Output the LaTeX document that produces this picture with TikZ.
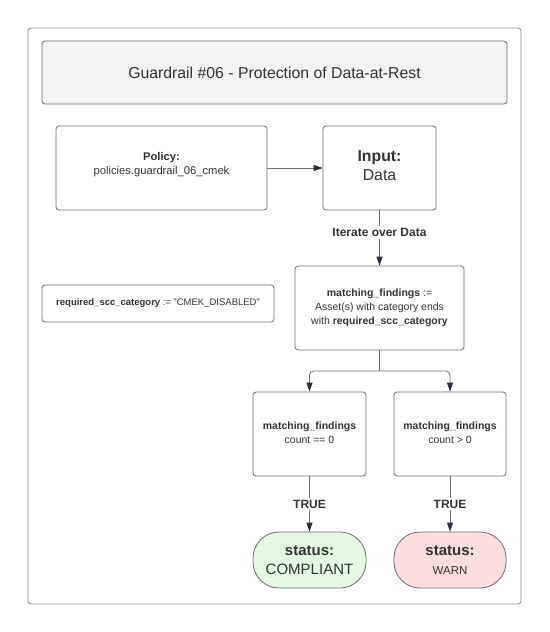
\documentclass[tikz,border=0pt]{standalone}
\usepackage{fontspec}
\setmainfont{Liberation Sans}
\usetikzlibrary{arrows.meta,positioning}
\definecolor{edge}{HTML}{6E6E6E}
\definecolor{txt}{HTML}{333333}
\definecolor{titlefill}{HTML}{F2F3F5}
\definecolor{okfill}{HTML}{E4F8E4}
\definecolor{warnfill}{HTML}{FDDEDE}
\definecolor{arr}{HTML}{2B2F3A}
\begin{document}
\begin{tikzpicture}[x=1pt,y=-1pt,
  box/.style={draw=edge,line width=0.8pt,rounded corners=3pt,text=txt,align=center,inner sep=0pt},
  pill/.style={draw=edge,line width=0.8pt,rounded corners=26pt,text=txt,align=center,inner sep=0pt},
  conn/.style={draw=edge,line width=0.8pt,-{Triangle[length=9pt,width=6pt,fill=arr,color=arr]}},
  lbl/.style={fill=white,text=txt,inner sep=2pt,font=\bfseries\fontsize{12}{14}\selectfont}]
\useasboundingbox (0,0) rectangle (549,632);
\fill[white] (0,0) rectangle (549,632);
\node[box,draw=edge!80,minimum width=493pt,minimum height=576pt] (frame) at (274.5,316) {};
\node[box,fill=titlefill,minimum width=465pt,minimum height=63pt,font=\fontsize{15.8}{18}\selectfont] (title) at (274.5,72.5) {Guardrail \#06 - Protection of Data-at-Rest};
\node[box,minimum width=211pt,minimum height=84pt,font=\fontsize{11.2}{14}\selectfont] (policy) at (161.5,168) {};
\node[text=txt,align=center,font=\fontsize{11.2}{14}\selectfont,inner sep=0pt] (policyt) at (161.5,165) {\textbf{Policy:}\\policies.guardrail\_06\_cmek};
\node[box,minimum width=113pt,minimum height=84pt] (input) at (379.5,168) {};
\node[text=txt,align=center,font=\fontsize{15.8}{19}\selectfont,inner sep=0pt] (inputt) at (379.5,165.5) {\textbf{Input:}\\Data};
\node[box,minimum width=232pt,minimum height=37pt,font=\fontsize{9.5}{11}\selectfont] (req) at (158,303.5) {\textbf{required\_scc\_category} := "CMEK\_DISABLED"};
\node[box,minimum width=169pt,minimum height=84pt,font=\fontsize{10.5}{14}\selectfont] (match) at (379.5,308) {\textbf{matching\_findings} :=\\Asset(s) with category ends\\with \textbf{required\_scc\_category}};
\node[box,minimum width=113pt,minimum height=84pt] (zero) at (309.5,434) {};
\node[text=txt,align=center,font=\fontsize{10.5}{14}\selectfont,inner sep=0pt] (zerot) at (309.5,433) {\textbf{matching\_findings}\\count == 0};
\node[box,minimum width=112pt,minimum height=84pt] (pos) at (450,434) {};
\node[text=txt,align=center,font=\fontsize{10.5}{14}\selectfont,inner sep=0pt] (post) at (450,433) {\textbf{matching\_findings}\\count > 0};
\node[pill,fill=okfill,minimum width=113pt,minimum height=56pt,font=\fontsize{15}{19}\selectfont] (ok) at (309.5,560) {\textbf{status:}\\COMPLIANT};
\node[pill,fill=warnfill,minimum width=112pt,minimum height=56pt,font=\fontsize{15}{19}\selectfont] (warn) at (450,560) {\textbf{status:}\\{\fontsize{11.5}{13}\selectfont WARN}};
\coordinate (split) at (379.5,371);
\draw[conn] (policy) -- (input);
\draw[conn] (input) -- node[lbl,pos=0.4] {Iterate over Data} (match);
\draw[draw=edge,line width=0.8pt] (match.south) -- (split);
\draw[conn,rounded corners=4pt] (split) -| (zero.north);
\draw[conn,rounded corners=4pt] (split) -| (pos.north);
\draw[conn] (zero) -- node[lbl] {TRUE} (ok);
\draw[conn] (pos) -- node[lbl] {TRUE} (warn);
\end{tikzpicture}
\end{document}
